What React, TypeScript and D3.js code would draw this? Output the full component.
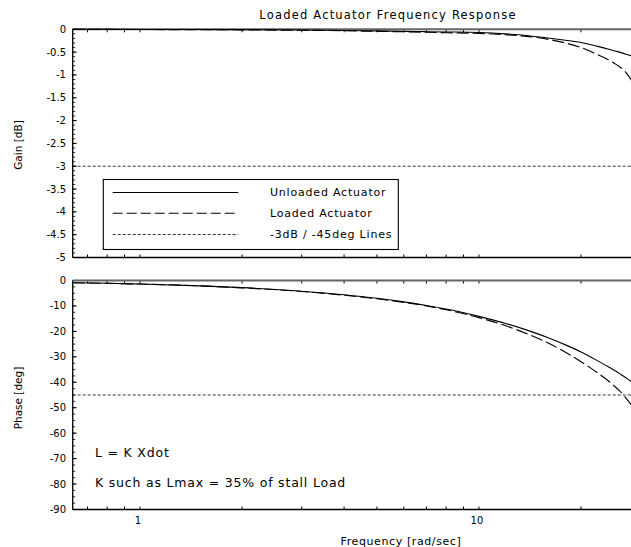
import React from "react";
import * as d3 from "d3";

const freq = [0.633, 0.8, 1, 1.5, 2, 3, 4, 5, 6, 7, 8, 10, 12, 14, 16, 18, 20, 22, 24, 25, 26, 27, 28.2];
const gainUnloaded = [0, 0, -0.003, -0.005, -0.008, -0.015, -0.025, -0.035, -0.045, -0.052, -0.058, -0.07, -0.1, -0.14, -0.19, -0.24, -0.29, -0.36, -0.43, -0.47, -0.5, -0.54, -0.58];
const gainLoaded = [0, -0.002, -0.005, -0.008, -0.012, -0.022, -0.032, -0.045, -0.055, -0.065, -0.075, -0.09, -0.12, -0.16, -0.22, -0.3, -0.4, -0.53, -0.66, -0.74, -0.82, -0.93, -1.12];
const phaseUnloaded = [-0.9, -1.1, -1.4, -2.1, -2.8, -4.2, -5.6, -7.0, -8.4, -9.8, -11.2, -14.1, -16.9, -19.7, -22.5, -25.3, -28.1, -31, -33.8, -35.2, -36.6, -38, -39.8];
const phaseLoaded = [-0.9, -1.1, -1.4, -2.1, -2.9, -4.3, -5.8, -7.2, -8.6, -10.0, -11.5, -14.6, -17.8, -21.2, -24.6, -28.2, -31.9, -35.6, -39.3, -41.3, -43.4, -45.8, -49];

const gainTicks = [0, -0.5, -1, -1.5, -2, -2.5, -3, -3.5, -4, -4.5, -5];
const gainTickLabels = ["0", "-0.5", "-1", "-1.5", "-2", "-2.5", "-3", "-3.5", "-4", "-4.5", "-5"];
const phaseTicks = [0, -10, -20, -30, -40, -50, -60, -70, -80, -90];
const phaseTickLabels = ["0", "-10", "-20", "-30", "-40", "-50", "-60", "-70", "-80", "-90"];
const freqTicks = [0.7, 0.8, 0.9, 1, 2, 3, 4, 5, 6, 7, 8, 9, 10, 20];
const freqTickLabels = [{ v: 1, t: "1" }, { v: 10, t: "10" }];

const legendLabels = ["Unloaded Actuator", "Loaded Actuator", "-3dB / -45deg Lines"];
const title = "Loaded Actuator Frequency Response";
const note1 = "L = K Xdot";
const note2 = "K such as Lmax = 35% of stall Load";

const W = 631, H = 547;
const FONT = "DejaVu Sans, sans-serif";

export default function App() {
  const x = d3.scaleLog().domain([0.633, 30]).range([72.7, 640.7]);
  const yG = d3.scaleLinear().domain([-5, 0]).range([257.5, 29.3]);
  const yP = d3.scaleLinear().domain([-90, 0]).range([509.5, 280.5]);
  const x0 = 72.7, x1 = W;

  const lineG = d3.line<number>().x((_, i) => x(freq[i])).y((d) => yG(d)).curve(d3.curveMonotoneX);
  const lineP = d3.line<number>().x((_, i) => x(freq[i])).y((d) => yP(d)).curve(d3.curveMonotoneX);

  const gMinor = d3.range(0, 51).map((i) => -i * 0.1);
  const pMinor = d3.range(0, 37).map((i) => -i * 2.5);

  const panel = (y: d3.ScaleLinear<number, number>, top: number, bottom: number, majors: number[], labels: string[], minors: number[], key: string) => (
    <g key={key}>
      {freqTicks.map((f, i) => (
        <g key={"xt" + i}>
          <line x1={x(f)} x2={x(f)} y1={top} y2={top + 3} stroke="#000" strokeWidth={1} />
          <line x1={x(f)} x2={x(f)} y1={bottom} y2={bottom - 3} stroke="#000" strokeWidth={1} />
        </g>
      ))}
      {minors.map((v, i) => (
        <line key={"ym" + i} x1={x0} x2={x0 + 2.5} y1={y(v)} y2={y(v)} stroke="#000" strokeWidth={0.8} />
      ))}
      {majors.map((v, i) => (
        <g key={"yM" + i}>
          <line x1={x0} x2={x0 + 4} y1={y(v)} y2={y(v)} stroke="#000" strokeWidth={1} />
          <text x={66} y={y(v)} dy="0.35em" textAnchor="end" fontSize={10} fontFamily={FONT}>{labels[i]}</text>
        </g>
      ))}
      <line x1={x0} x2={x1} y1={top} y2={top} stroke="#666" strokeWidth={2} />
      <line x1={x0} x2={x1} y1={bottom} y2={bottom} stroke="#000" strokeWidth={1.3} />
      <line x1={x0} x2={x0} y1={top} y2={bottom} stroke="#000" strokeWidth={1.3} />
    </g>
  );

  return (
    <svg width={W} height={H} style={{ position: "absolute", left: 0, top: 0, background: "#fff" }}>
      <rect x={0} y={0} width={W} height={H} fill="#fff" />
      <text x={388} y={19} textAnchor="middle" fontSize={11.5} letterSpacing={1.2} fontFamily={FONT}>{title}</text>

      {panel(yG, 29.3, 257.5, gainTicks, gainTickLabels, gMinor, "g")}
      {panel(yP, 280.5, 509.5, phaseTicks, phaseTickLabels, pMinor, "p")}

      <line x1={x0} x2={x1} y1={yG(-3)} y2={yG(-3)} stroke="#000" strokeWidth={0.8} strokeDasharray="3,2" />
      <line x1={x0} x2={x1} y1={yP(-45)} y2={yP(-45)} stroke="#000" strokeWidth={0.8} strokeDasharray="3,2" />

      <path d={lineG(gainUnloaded) || ""} fill="none" stroke="#000" strokeWidth={1.1} />
      <path d={lineG(gainLoaded) || ""} fill="none" stroke="#000" strokeWidth={1.1} strokeDasharray="12,4" />
      <path d={lineP(phaseUnloaded) || ""} fill="none" stroke="#000" strokeWidth={1.1} />
      <path d={lineP(phaseLoaded) || ""} fill="none" stroke="#000" strokeWidth={1.1} strokeDasharray="12,4" />

      <rect x={103.3} y={179.5} width={295} height={70} fill="#fff" stroke="#000" strokeWidth={1.1} />
      {legendLabels.map((t, i) => {
        const yy = [192.5, 213.3, 234.5][i];
        const dash = [undefined, "10,4", "3,2"][i];
        return (
          <g key={"lg" + i}>
            <line x1={112.7} x2={238.3} y1={yy} y2={yy} stroke="#000" strokeWidth={i === 2 ? 0.8 : 1.1} strokeDasharray={dash} />
            <text x={270} y={yy} dy="0.35em" fontSize={11} letterSpacing={0.8} fontFamily={FONT}>{t}</text>
          </g>
        );
      })}

      <text x={95} y={453} dy="0.35em" fontSize={12.5} letterSpacing={0.8} fontFamily={FONT}>{note1}</text>
      <text x={95} y={483} dy="0.35em" fontSize={12.5} letterSpacing={0.8} fontFamily={FONT}>{note2}</text>

      {freqTickLabels.map((d) => (
        <text key={d.t} x={x(d.v) - 2} y={520} dy="0.35em" textAnchor="middle" fontSize={10} fontFamily={FONT}>{d.t}</text>
      ))}
      <text x={401} y={541} dy="0.35em" textAnchor="middle" fontSize={11} letterSpacing={0.6} fontFamily={FONT}>Frequency [rad/sec]</text>

      <text transform="translate(18,145) rotate(-90)" textAnchor="middle" dy="0.35em" fontSize={10.5} fontFamily={FONT}>Gain [dB]</text>
      <text transform="translate(18,398) rotate(-90)" textAnchor="middle" dy="0.35em" fontSize={10.5} fontFamily={FONT}>Phase [deg]</text>
    </svg>
  );
}
